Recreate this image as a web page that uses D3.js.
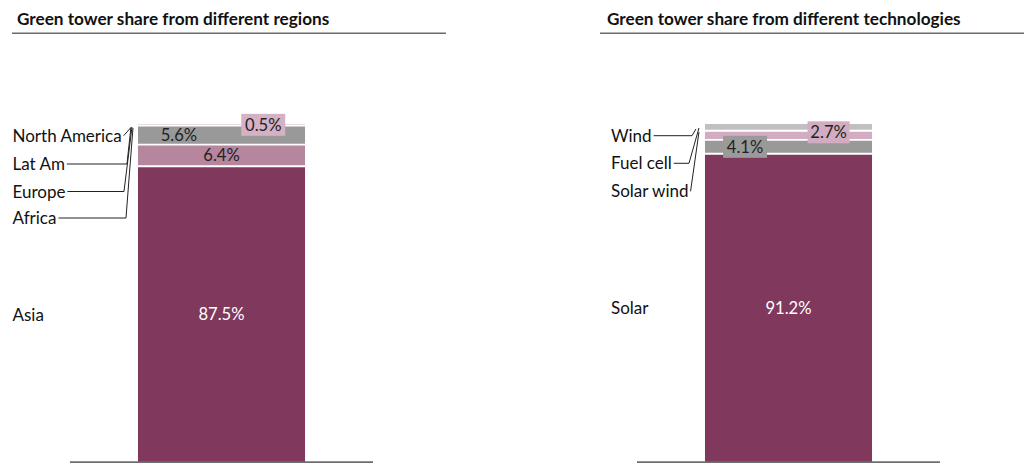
<!DOCTYPE html>
<html>
<head>
<meta charset="utf-8">
<script src="https://cdn.jsdelivr.net/npm/d3@7"></script>
<style>
  html, body { margin: 0; padding: 0; background: #fff; }
  svg { display: block; font-family: Lato, "Open Sans", sans-serif; }
</style>
</head>
<body>
<svg id="chart" width="1024" height="463"></svg>
<script>
// Green tower share, stacked 100% columns (bottom segment first)
const regionNames   = ["Asia", "Africa", "Europe", "Lat Am", "North America"];
const regionValues  = [87.5, 0.0, 6.4, 5.6, 0.5];
const regionColors  = ["#80385d", "#80385d", "#b5869e", "#999999", "#e4cbd7"];

const techNames   = ["Solar", "Solar wind", "Fuel cell", "Wind"];
const techValues  = [91.2, 4.1, 2.7, 2.0];
const techColors  = ["#80385d", "#999999", "#d2adc1", "#c0c0c0"];

const titles = ["Green tower share from different regions",
                "Green tower share from different technologies"];

const svg = d3.select("#chart");
const fmt = v => d3.format(".1f")(v) + "%";
const LABEL_SIZE = 17;
const VALUE_SIZE = 16.6;

// shared vertical scale: 0..100 %
const y = d3.scaleLinear().domain([0, 100]).range([462, 124]);

function panel(opt) {
  const g = svg.append("g");

  // title + rule
  g.append("text").attr("x", opt.titleX).attr("y", 24.5)
    .attr("font-weight", 700).attr("font-size", 17.2).attr("fill", "#111")
    .text(opt.title);
  g.append("line").attr("x1", opt.ruleX[0]).attr("x2", opt.ruleX[1])
    .attr("y1", 33.3).attr("y2", 33.3).attr("stroke", "#6b6b6b").attr("stroke-width", 1.5);

  const x = d3.scaleBand().domain([opt.key]).range(opt.axisX)
    .paddingInner(0).paddingOuter(0.407);
  const x0 = x(opt.key), bw = x.bandwidth();

  // stack
  const row = {}; opt.names.forEach((n, i) => row[n] = opt.values[i]);
  const series = d3.stack().keys(opt.names)([row]);

  g.selectAll("rect.seg").data(series).join("rect").attr("class", "seg")
    .attr("x", x0).attr("width", bw)
    .attr("y", d => y(d[0][1]))
    .attr("height", d => y(d[0][0]) - y(d[0][1]))
    .attr("fill", (d, i) => opt.colors[i]);

  // white separators between segments
  g.selectAll("line.sep").data(series.slice(0, -1).filter(d => d[0][1] > d[0][0])).join("line")
    .attr("class", "sep")
    .attr("x1", x0).attr("x2", x0 + bw)
    .attr("y1", d => y(d[0][1])).attr("y2", d => y(d[0][1]))
    .attr("stroke", "#fff").attr("stroke-width", 1.8);

  // baseline axis
  g.append("line").attr("x1", opt.axisX[0]).attr("x2", opt.axisX[1])
    .attr("y1", 462.3).attr("y2", 462.3).attr("stroke", "#6e6e6e").attr("stroke-width", 2);

  // value labels
  opt.valueLabels.forEach(l => {
    const d = series[opt.names.indexOf(l.name)];
    const cx = x0 + bw * l.fx;
    const cy = (y(d[0][0]) + y(d[0][1])) / 2 + (l.dy || 0);
    if (l.box) {
      g.append("rect").attr("x", cx - l.bw / 2).attr("y", cy - 11)
        .attr("width", l.bw).attr("height", 22).attr("fill", l.box);
    }
    g.append("text").attr("x", cx).attr("y", cy + 6)
      .attr("text-anchor", "middle").attr("font-size", VALUE_SIZE)
      .attr("fill", l.white ? "#fff" : "#222")
      .text(fmt(d[0][1] - d[0][0]));
  });

  // category labels with leader lines
  opt.catLabels.forEach(l => {
    const t = g.append("text").attr("x", opt.labelX).attr("y", l.base)
      .attr("font-size", LABEL_SIZE).attr("fill", "#111").text(l.name);
    if (!l.lead) return;
    const end = opt.labelX + t.node().getComputedTextLength() + 2;
    const my = l.base - 6;
    const pts = [[end, my]];
    if (l.lead.elbow != null) pts.push([x0 + l.lead.elbow, my]);
    pts.push([x0 + l.lead.tx, y(100) + l.lead.ty]);
    g.append("path").attr("d", d3.line()(pts))
      .attr("fill", "none").attr("stroke", "#222").attr("stroke-width", 1);
  });
}

panel({
  key: "regions", title: titles[0], titleX: 17, ruleX: [12, 446], axisX: [70, 373],
  names: regionNames, values: regionValues, colors: regionColors, labelX: 12.5,
  valueLabels: [
    { name: "Asia", fx: 0.5, white: true },
    { name: "Europe", fx: 0.5 },
    { name: "Lat Am", fx: 0.245 },
    { name: "North America", fx: 0.75, box: "#d4b1c4", bw: 44 }
  ],
  catLabels: [
    { name: "North America", base: 141.7, lead: { tx: -7.5, ty: 4 } },
    { name: "Lat Am", base: 170, lead: { elbow: -11, tx: -7, ty: 3 } },
    { name: "Europe", base: 197.5, lead: { elbow: -14, tx: -6, ty: 3 } },
    { name: "Africa", base: 224, lead: { elbow: -12, tx: -5, ty: 4 } },
    { name: "Asia", base: 321 }
  ]
});

panel({
  key: "technologies", title: titles[1], titleX: 607, ruleX: [600, 1024], axisX: [637, 940],
  names: techNames, values: techValues, colors: techColors, labelX: 611,
  valueLabels: [
    { name: "Solar", fx: 0.5, white: true },
    { name: "Solar wind", fx: 0.24, box: "#9a9a9a", bw: 44 },
    { name: "Fuel cell", fx: 0.74, box: "#d2adc1", bw: 42, dy: -3 }
  ],
  catLabels: [
    { name: "Wind", base: 141.7, lead: { elbow: -13, tx: -9, ty: 5 } },
    { name: "Fuel cell", base: 169.3, lead: { elbow: -16, tx: -6, ty: 4 } },
    { name: "Solar wind", base: 197.3, lead: { tx: -6, ty: 8 } },
    { name: "Solar", base: 314.3 }
  ]
});
</script>
</body>
</html>
